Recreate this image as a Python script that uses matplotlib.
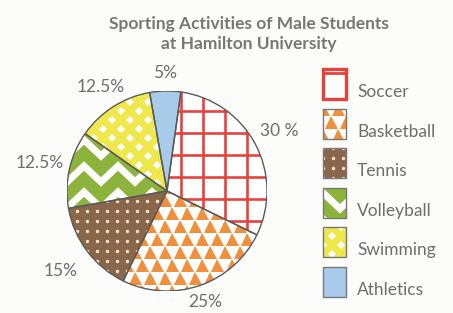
import numpy as np
import matplotlib.pyplot as plt
from matplotlib.patches import Wedge, Rectangle

# data
sports = ["Soccer", "Basketball", "Tennis", "Volleyball", "Swimming", "Athletics"]
shares = [30, 25, 15, 12.5, 12.5, 5]
pct_labels = ["30 %", "25%", "15%", "12.5%", "12.5%", "5%"]
label_dist = [1.27, 1.17, 1.33, 1.3, 1.23, 1.18]
title = "Sporting Activities of Male Students\nat Hamilton University"

TXT = "#6e6e6e"
plt.rcParams["font.family"] = ["Lato", "DejaVu Sans"]

BG = {"Soccer": "white", "Basketball": "white", "Tennis": "#8a674b",
      "Volleyball": "white", "Swimming": "#eee84c", "Athletics": "#a9cbea"}


def pt(p):
    # pixels -> points at dpi 100
    return p * 72 / 100


def texture(ax, name, clip, box, u):
    """Fill pattern for one sport, clipped to patch. box in data units, u = data units per pixel."""
    x0, x1, y0, y1 = box
    arts = []
    if name == "Soccer":
        s = 22 * u
        for x in np.arange(x0 + 4 * u, x1 + s, s):
            arts += ax.plot([x, x], [y0, y1], color="#e8403a", lw=pt(2.6))
        for y in np.arange(y0 + 4 * u, y1 + s, s):
            arts += ax.plot([x0, x1], [y, y], color="#e8403a", lw=pt(2.6))
    elif name == "Basketball":
        sx, sy = 15 * u, 13 * u
        for i, y in enumerate(np.arange(y0, y1 + sy, sy)):
            xs = np.arange(x0 + (i % 2) * sx / 2, x1 + sx, sx)
            arts += ax.plot(xs, np.full_like(xs, y), ls="none", marker="^",
                            ms=pt(13), mew=0, color="#f0903c")
    elif name == "Tennis":
        s = 10 * u
        gx, gy = np.meshgrid(np.arange(x0, x1 + s, s), np.arange(y0, y1 + s, s))
        arts += ax.plot(gx.ravel(), gy.ravel(), ls="none", marker="o",
                        ms=pt(3.4), mew=0, color="#f6e6cc")
    elif name == "Volleyball":
        hp, amp, per = 17 * u, 8 * u, 26 * u
        xs = np.arange(x0 - hp, x1 + 2 * hp, hp)
        zig = np.where(np.arange(len(xs)) % 2 == 0, amp, -amp)
        for y in np.arange(y0, y1 + per, per):
            arts += ax.plot(xs, y + zig, color="#8cb43c", lw=pt(12),
                            solid_joinstyle="miter")
    elif name == "Swimming":
        s = 18 * u
        for i, y in enumerate(np.arange(y0, y1 + s / 2, s / 2)):
            xs = np.arange(x0 + (i % 2) * s / 2, x1 + s, s)
            arts += ax.plot(xs, np.full_like(xs, y), ls="none", marker="D",
                            ms=pt(6), mew=0, color="white")
    for a in arts:
        a.set_clip_path(clip)
        a.set_zorder(clip.get_zorder() + 0.5)


fig = plt.figure(figsize=(4.53, 3.13), dpi=100)
fig.patch.set_facecolor("#fcfcfa")

# overlay axes in pixel coordinates for title and legend
lax = fig.add_axes([0, 0, 1, 1])
lax.set_xlim(0, 453)
lax.set_ylim(313, 0)
lax.axis("off")

lax.text(249, 34, title, ha="center", va="center", fontsize=12.5,
         fontweight="bold", color="#777777", linespacing=1.3)

# pie
ax = fig.add_axes([67 / 453, 22 / 313, 200 / 453, 200 / 313])
wedges, texts = ax.pie(shares, labels=pct_labels, startangle=82, counterclock=False,
                       labeldistance=1.0, colors=[BG[s] for s in sports],
                       wedgeprops=dict(linewidth=0))
ax.set_xlim(-1, 1)
ax.set_ylim(-1, 1)
for t, d in zip(texts, label_dist):
    x, y = t.get_position()
    t.set_position((x * d, y * d))
    t.set_ha("center")
    t.set_va("center")
    t.set_fontsize(12.5)
    t.set_color(TXT)

for w, name in zip(wedges, sports):
    w.set_zorder(2)
    texture(ax, name, w, (-1, 1, -1, 1), 0.01)
    ax.add_patch(Wedge(w.center, w.r, w.theta1, w.theta2, fill=False,
                       edgecolor="#5a5a5a", lw=1.0, zorder=4))

# legend boxes
for i, name in enumerate(sports):
    top = 69 + i * 39.6
    r = Rectangle((323, top), 23, 30, facecolor=BG[name], edgecolor="none", zorder=2)
    lax.add_patch(r)
    if name == "Soccer":
        lax.add_patch(Rectangle((323, top), 23, 30, fill=False, edgecolor="#e8403a",
                                lw=2.4, zorder=4))
        lax.plot([323, 346], [top + 4, top + 4], color="#e8403a", lw=2.0, zorder=4)
    else:
        texture(lax, name, r, (323, 346, top, top + 30), 1)
        lax.add_patch(Rectangle((323, top), 23, 30, fill=False, edgecolor="#777777",
                                lw=1.0, zorder=4))
    lax.text(357, top + 23, name, ha="left", va="center", fontsize=12.5, color=TXT)

fig.savefig("out.png", dpi=100, facecolor=fig.get_facecolor())
